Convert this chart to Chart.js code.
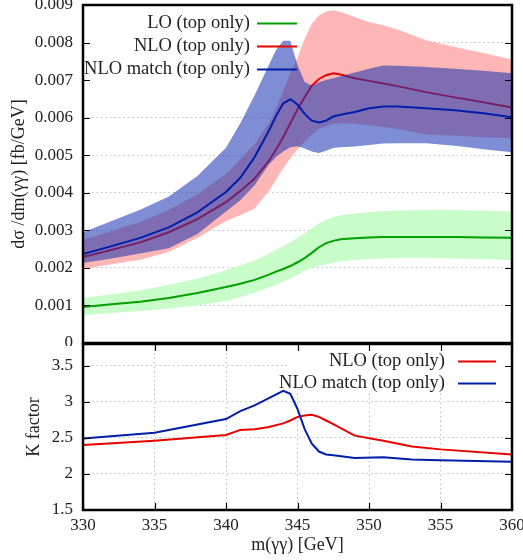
<!DOCTYPE html>
<html>
<head>
<meta charset="utf-8">
<script src="https://cdn.jsdelivr.net/npm/chart.js@4.4.1/dist/chart.umd.min.js"></script>
<style>
body { margin: 0; background: #fff; }
#wrap { position: relative; width: 523px; height: 560px; }
canvas { position: absolute; left: 0; }
#top { top: 0; }
#bottom { top: 335px; }
</style>
</head>
<body>
<div id="wrap">
  <canvas id="top" width="523" height="346"></canvas>
  <canvas id="bottom" width="523" height="225"></canvas>
</div>
<script>
// m(yy) grid for the upper panel, in GeV
const mass = [330, 332, 334, 336, 338, 340, 341, 342, 343, 343.5, 344, 344.5, 345, 345.5, 346, 346.5, 347, 347.5, 348, 349, 350, 351, 352, 354, 356, 358, 360];

// dsigma/dm [fb/GeV]
const loMid = [0.00096, 0.00103, 0.00110, 0.00120, 0.00133, 0.00149, 0.00158, 0.00168, 0.00182, 0.00190, 0.00197, 0.00205, 0.00215, 0.00226, 0.00240, 0.00255, 0.00266, 0.00272, 0.00276, 0.00279, 0.00281, 0.00282, 0.00282, 0.00282, 0.00282, 0.00281, 0.00280];
const loUp = [0.00120, 0.00130, 0.00140, 0.00155, 0.00172, 0.00194, 0.00207, 0.00220, 0.00238, 0.00248, 0.00258, 0.00268, 0.00280, 0.00292, 0.00305, 0.00318, 0.00328, 0.00335, 0.00340, 0.00345, 0.00349, 0.00351, 0.00353, 0.00354, 0.00354, 0.00352, 0.00350];
const loLow = [0.00074, 0.00080, 0.00085, 0.00092, 0.00100, 0.00112, 0.00122, 0.00134, 0.00148, 0.00155, 0.00163, 0.00172, 0.00182, 0.00192, 0.00200, 0.00206, 0.00210, 0.00214, 0.00217, 0.00222, 0.00224, 0.00225, 0.00226, 0.00226, 0.00225, 0.00223, 0.00221];

const nloMid = [0.00229, 0.00248, 0.00268, 0.00295, 0.00330, 0.00375, 0.00405, 0.00438, 0.00485, 0.00515, 0.00548, 0.00585, 0.00622, 0.00655, 0.00685, 0.00703, 0.00713, 0.00718, 0.00715, 0.00705, 0.00698, 0.00691, 0.00684, 0.00668, 0.00654, 0.00641, 0.00627];
const nloUp = [0.00275, 0.00298, 0.00322, 0.00355, 0.00397, 0.00450, 0.00490, 0.00530, 0.00585, 0.00625, 0.00670, 0.00720, 0.00760, 0.00810, 0.00850, 0.00872, 0.00883, 0.00886, 0.00882, 0.00868, 0.00855, 0.00846, 0.00835, 0.00806, 0.00788, 0.00772, 0.00755];
const nloLow = [0.00197, 0.00210, 0.00222, 0.00242, 0.00280, 0.00325, 0.00340, 0.00358, 0.00405, 0.00435, 0.00465, 0.00492, 0.00515, 0.00535, 0.00555, 0.00570, 0.00578, 0.00583, 0.00585, 0.00584, 0.00580, 0.00575, 0.00570, 0.00555, 0.00552, 0.00548, 0.00545];

const matchMid = [0.00237, 0.00258, 0.00280, 0.00308, 0.00348, 0.00402, 0.00440, 0.00495, 0.00565, 0.00605, 0.00638, 0.00649, 0.00635, 0.00610, 0.00592, 0.00587, 0.00592, 0.00603, 0.00608, 0.00615, 0.00625, 0.00630, 0.00630, 0.00625, 0.00620, 0.00612, 0.00601];
const matchUp = [0.00295, 0.00325, 0.00355, 0.00390, 0.00445, 0.00520, 0.00585, 0.00660, 0.00740, 0.00780, 0.00805, 0.00805, 0.00740, 0.00695, 0.00685, 0.00694, 0.00700, 0.00705, 0.00710, 0.00720, 0.00730, 0.00739, 0.00738, 0.00735, 0.00730, 0.00725, 0.00718];
const matchLow = [0.00213, 0.00225, 0.00238, 0.00252, 0.00290, 0.00350, 0.00380, 0.00420, 0.00475, 0.00495, 0.00510, 0.00521, 0.00524, 0.00518, 0.00510, 0.00506, 0.00512, 0.00519, 0.00521, 0.00523, 0.00527, 0.00531, 0.00532, 0.00532, 0.00525, 0.00516, 0.00508];

// K factor panel
const kMass = [330, 335, 340, 341, 342, 343, 344, 344.5, 345, 345.5, 346, 346.5, 347, 347.5, 349, 351, 353, 355, 360];
const kNlo = [2.40, 2.46, 2.54, 2.61, 2.62, 2.65, 2.70, 2.74, 2.79, 2.81, 2.82, 2.79, 2.74, 2.69, 2.53, 2.46, 2.38, 2.34, 2.27];
const kMatch = [2.49, 2.57, 2.76, 2.87, 2.95, 3.05, 3.15, 3.11, 2.90, 2.62, 2.42, 2.31, 2.27, 2.26, 2.22, 2.23, 2.20, 2.19, 2.17];

// tick labels
const massTicks = [330, 335, 340, 345, 350, 355, 360];
const xsecTicks = [0, 0.001, 0.002, 0.003, 0.004, 0.005, 0.006, 0.007, 0.008, 0.009];
const kTicks = [1.5, 2, 2.5, 3, 3.5];

const labels = ['LO (top only)', 'NLO (top only)', 'NLO match (top only)'];

Chart.defaults.font.family = '"Liberation Serif", serif';
Chart.defaults.font.size = 17;
Chart.defaults.color = '#222';

const RED = 'rgb(235, 0, 0)';
const BLUE = 'rgb(0, 30, 170)';
const GREEN = 'rgb(0, 160, 0)';

function pts(xs, ys) {
    return xs.map((x, i) => ({ x: x, y: ys[i] }));
}

function line(label, ys, color, order, xs = mass) {
    return {
        label: label,
        data: pts(xs, ys),
        borderColor: color,
        borderWidth: 2,
        pointRadius: 0,
        fill: false,
        tension: 0,
        order: order
    };
}

function edge(ys, order, fillTo, color) {
    return {
        label: '',
        data: pts(mass, ys),
        borderWidth: 0,
        borderColor: 'rgba(0,0,0,0)',
        backgroundColor: color || 'rgba(0,0,0,0)',
        pointRadius: 0,
        fill: fillTo === undefined ? false : fillTo,
        tension: 0,
        order: order
    };
}

// no extra room for the end tick labels, the plot box is fixed
function noPad(s) {
    s.paddingTop = 0;
    s.paddingBottom = 0;
    s.paddingLeft = 0;
    s.paddingRight = 0;
}

// black frame with inward ticks (gnuplot style)
const framePlugin = {
    id: 'frame',
    afterDatasetsDraw(chart, args, opts) {
        const { ctx, chartArea: a, scales } = chart;
        ctx.save();
        ctx.strokeStyle = '#000';
        ctx.lineWidth = 1.2;
        ctx.beginPath();
        scales.y.ticks.forEach(t => {
            const py = Math.round(scales.y.getPixelForValue(t.value)) + 0.5;
            ctx.moveTo(a.left, py); ctx.lineTo(a.left + 7, py);
            ctx.moveTo(a.right, py); ctx.lineTo(a.right - 7, py);
        });
        if (opts.xTicks) {
            scales.x.ticks.forEach(t => {
                const px = Math.round(scales.x.getPixelForValue(t.value)) + 0.5;
                ctx.moveTo(px, a.bottom); ctx.lineTo(px, a.bottom - 7);
                ctx.moveTo(px, a.top); ctx.lineTo(px, a.top + 7);
            });
        }
        ctx.stroke();
        ctx.lineWidth = 2.5;
        ctx.strokeRect(a.left, a.top, a.right - a.left, a.bottom - a.top);
        ctx.restore();
    }
};

// key: opaque box behind the data (hides grid), text right aligned, line sample on the right
const keyPlugin = {
    id: 'key',
    beforeDatasetsDraw(chart, args, opts) {
        const ctx = chart.ctx;
        ctx.save();
        ctx.fillStyle = '#fff';
        ctx.fillRect(opts.box[0], opts.box[1], opts.box[2], opts.box[3]);
        ctx.restore();
    },
    afterDatasetsDraw(chart, args, opts) {
        const ctx = chart.ctx;
        ctx.save();
        ctx.font = '18.5px "Liberation Serif", serif';
        ctx.textAlign = 'right';
        ctx.textBaseline = 'middle';
        ctx.fillStyle = '#222';
        opts.entries.forEach((idx, i) => {
            const ds = chart.data.datasets[idx];
            const y = opts.y + i * opts.step;
            ctx.fillText(ds.label, opts.textRight, y);
            ctx.strokeStyle = ds.borderColor;
            ctx.lineWidth = 2;
            ctx.beginPath();
            ctx.moveTo(opts.lineX0, y + 0.5);
            ctx.lineTo(opts.lineX1, y + 0.5);
            ctx.stroke();
        });
        ctx.restore();
    }
};

const gridStyle = { color: '#bdbdbd', lineWidth: 1, drawTicks: false };
const borderStyle = { display: false, dash: [1.5, 3] };

function Create_Xsec_Chart(canvasId) {
    const ctx = document.getElementById(canvasId);
    if (!ctx) {
        console.error(`Error finding canvas element ID ${canvasId}`);
        return null;
    }
    return new Chart(ctx, {
        type: 'line',
        data: {
            datasets: [
                line(labels[2], matchMid, BLUE, 0),                          // 0
                edge(matchUp, 1, 2, 'rgba(30, 55, 180, 0.57)'),              // 1
                edge(matchLow, 1),                                           // 2
                line(labels[1], nloMid, RED, 2),                             // 3
                edge(nloUp, 3, 5, 'rgb(255, 182, 182)'),                     // 4
                edge(nloLow, 3),                                             // 5
                line(labels[0], loMid, GREEN, 4),                            // 6
                edge(loUp, 5, 8, 'rgb(200, 252, 200)'),                      // 7
                edge(loLow, 5)                                               // 8
            ]
        },
        options: {
            responsive: false,
            animation: false,
            devicePixelRatio: 1,
            layout: { padding: { left: 0, right: 11, top: 5, bottom: 3 } },
            scales: {
                x: {
                    type: 'linear',
                    min: 330,
                    max: 360,
                    display: false
                },
                y: {
                    type: 'linear',
                    min: 0,
                    max: 0.009,
                    afterBuildTicks: s => { s.ticks = xsecTicks.map(v => ({ value: v })); },
                    afterFit: s => { s.width = 83; noPad(s); },
                    grid: gridStyle,
                    border: borderStyle,
                    ticks: {
                        padding: 10,
                        callback: v => v === 0 ? '0' : v.toFixed(3)
                    },
                    title: {
                        display: true,
                        text: 'dσ /dm(γγ) [fb/GeV]',
                        font: { size: 18 },
                        padding: { top: 8, bottom: 0 }
                    }
                }
            },
            plugins: {
                legend: { display: false },
                tooltip: { enabled: false },
                frame: { xTicks: false },
                key: {
                    box: [83, 5, 217, 79],
                    entries: [6, 3, 0],
                    y: 23,
                    step: 23,
                    textRight: 250,
                    lineX0: 257,
                    lineX1: 297
                }
            }
        },
        plugins: [keyPlugin, framePlugin]
    });
}

function Create_K_Chart(canvasId) {
    const ctx = document.getElementById(canvasId);
    if (!ctx) {
        console.error(`Error finding canvas element ID ${canvasId}`);
        return null;
    }
    return new Chart(ctx, {
        type: 'line',
        data: {
            datasets: [
                line(labels[1], kNlo, RED, 1, kMass),
                line(labels[2], kMatch, BLUE, 0, kMass)
            ]
        },
        options: {
            responsive: false,
            animation: false,
            devicePixelRatio: 1,
            layout: { padding: { left: 0, right: 11, top: 9, bottom: 0 } },
            scales: {
                x: {
                    type: 'linear',
                    min: 330,
                    max: 360,
                    afterBuildTicks: s => { s.ticks = massTicks.map(v => ({ value: v })); },
                    afterFit: s => { s.height = 50; noPad(s); },
                    grid: gridStyle,
                    border: borderStyle,
                    ticks: { padding: 5 },
                    title: {
                        display: true,
                        text: 'm(γγ) [GeV]',
                        font: { size: 18 },
                        padding: { top: 0, bottom: 4 }
                    }
                },
                y: {
                    type: 'linear',
                    min: 1.5,
                    max: 3.8,
                    afterBuildTicks: s => { s.ticks = kTicks.map(v => ({ value: v })); },
                    afterFit: s => { s.width = 83; noPad(s); },
                    grid: gridStyle,
                    border: borderStyle,
                    ticks: {
                        padding: 10,
                        callback: v => String(v)
                    },
                    title: {
                        display: true,
                        text: 'K factor',
                        font: { size: 18 },
                        padding: { top: 23, bottom: 0 }
                    }
                }
            },
            plugins: {
                legend: { display: false },
                tooltip: { enabled: false },
                frame: { xTicks: true },
                key: {
                    box: [287, 9, 225, 49],
                    entries: [0, 1],
                    y: 26,
                    step: 22,
                    textRight: 445,
                    lineX0: 458,
                    lineX1: 496
                }
            }
        },
        plugins: [keyPlugin, framePlugin]
    });
}

Create_Xsec_Chart('top');
Create_K_Chart('bottom');
</script>
</body>
</html>
